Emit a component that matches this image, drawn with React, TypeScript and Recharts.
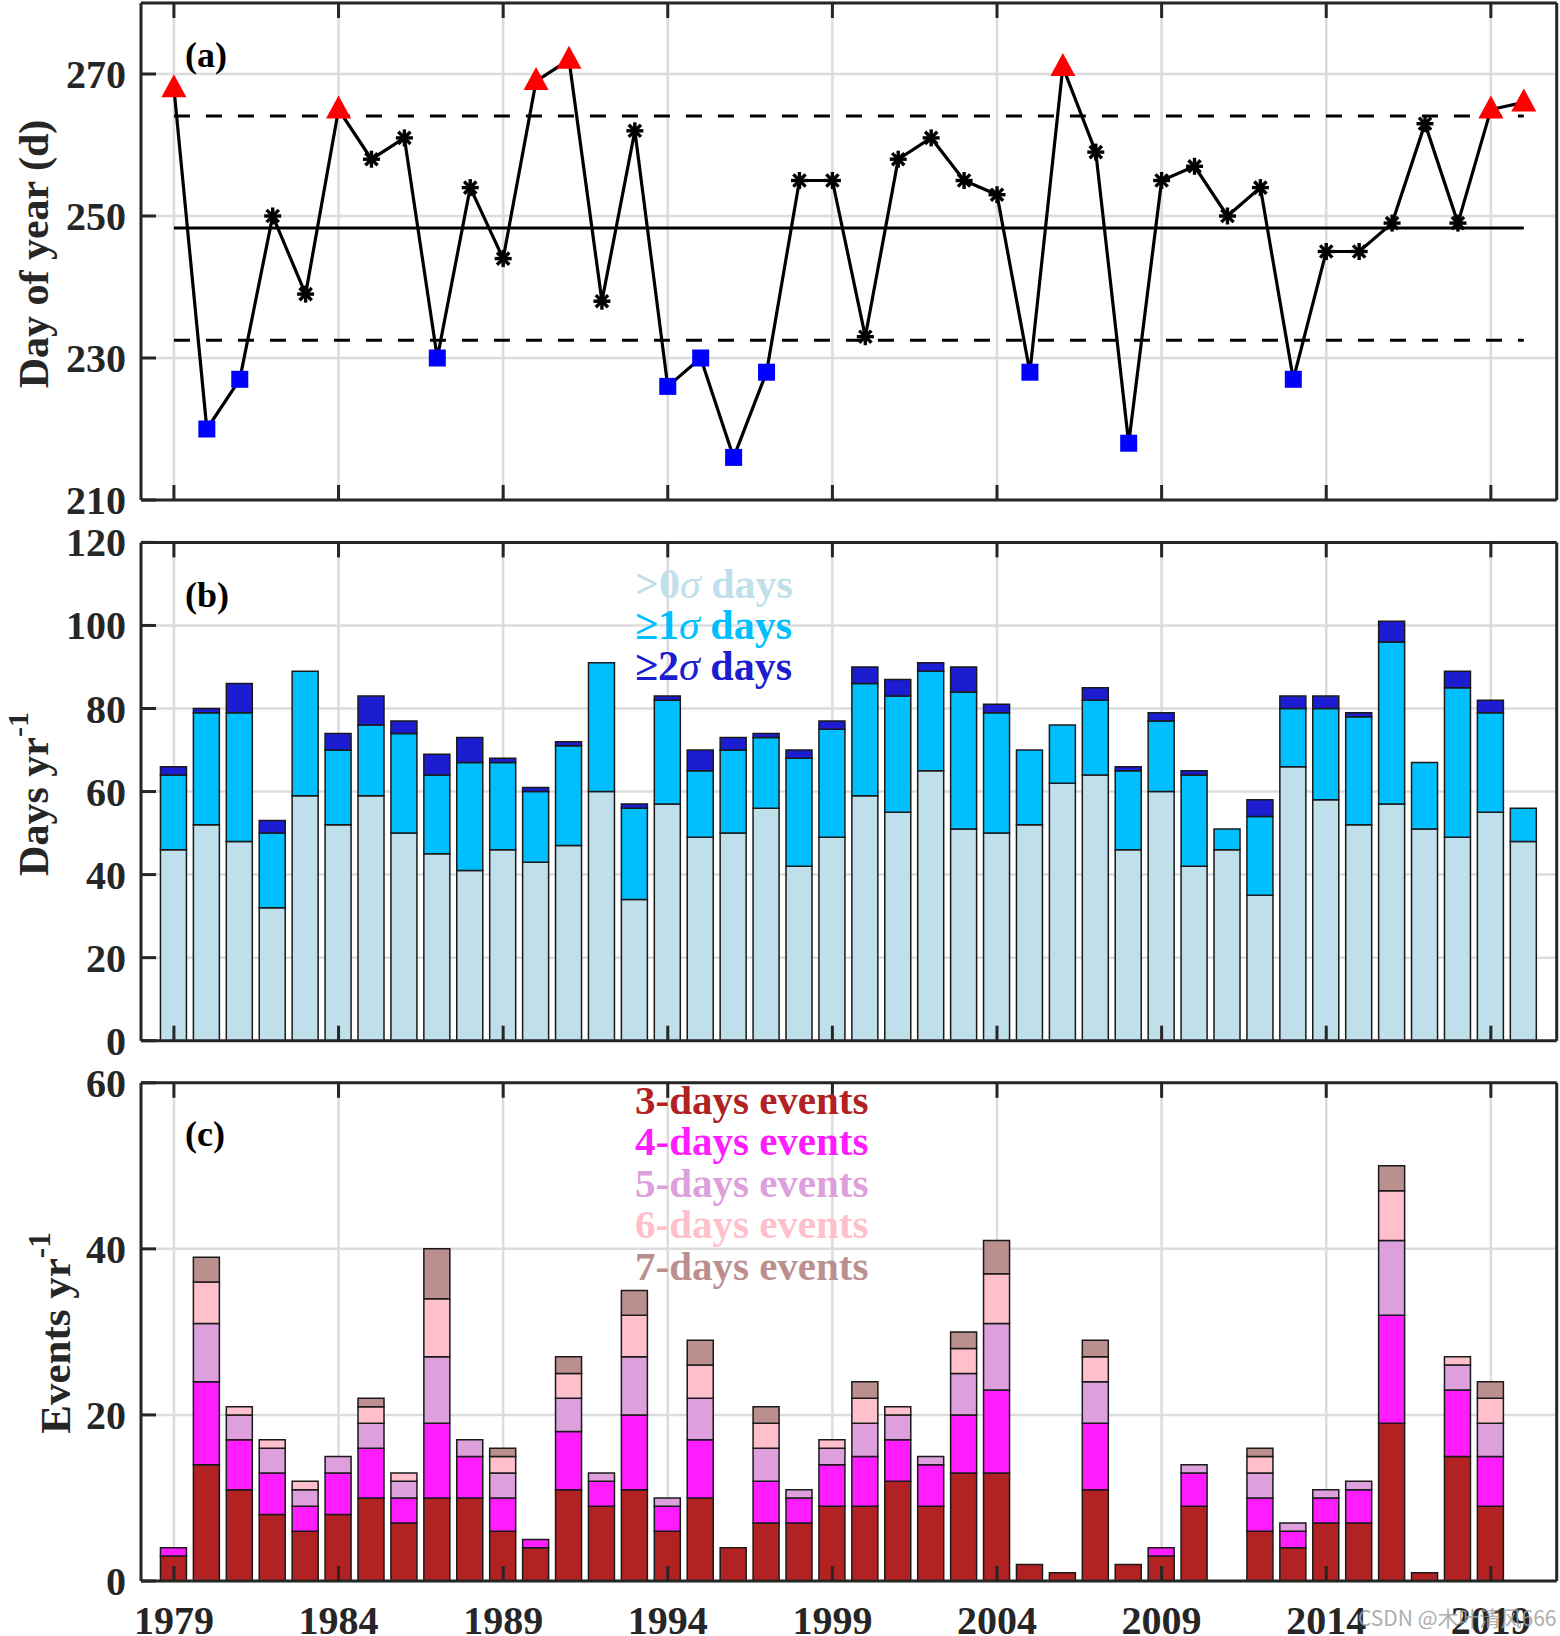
import React from "react";
import { ComposedChart, Bar, Line, XAxis, YAxis, CartesianGrid } from "recharts";

// years on the x axis
const YEARS = [
  1979, 1980, 1981, 1982, 1983, 1984, 1985, 1986, 1987, 1988, 1989, 1990, 1991, 1992,
  1993, 1994, 1995, 1996, 1997, 1998, 1999, 2000, 2001, 2002, 2003, 2004, 2005, 2006,
  2007, 2008, 2009, 2010, 2011, 2012, 2013, 2014, 2015, 2016, 2017, 2018, 2019, 2020,
];
const YEAR_TICKS = [1979, 1984, 1989, 1994, 1999, 2004, 2009, 2014, 2019];

// (a) day of year
const DOY = [
  268, 220, 227, 250, 239, 265, 258, 261, 230, 254, 244, 269, 272, 238,
  262, 226, 230, 216, 228, 255, 255, 233, 258, 261, 255, 253, 228, 271,
  259, 218, 255, 257, 250, 254, 227, 245, 245, 249, 263, 249, 265, 266,
];
const DOY_MEAN = 248.3;
const DOY_UPPER = 264.1;
const DOY_LOWER = 232.5;
const DOY_TICKS = [210, 230, 250, 270];

// (b) days per year (stacked pieces)
const DAYS_GT0 = [
  46, 52, 48, 32, 59, 52, 59, 50, 45, 41, 46, 43, 47, 60,
  34, 57, 49, 50, 56, 42, 49, 59, 55, 65, 51, 50, 52, 62,
  64, 46, 60, 42, 46, 35, 66, 58, 52, 57, 51, 49, 55, 48,
];
const DAYS_GE1 = [
  18, 27, 31, 18, 30, 18, 17, 24, 19, 26, 21, 17, 24, 31,
  22, 25, 16, 20, 17, 26, 26, 27, 28, 24, 33, 29, 18, 14,
  18, 19, 17, 22, 5, 19, 14, 22, 26, 39, 16, 36, 24, 8,
];
const DAYS_GE2 = [
  2, 1, 7, 3, 0, 4, 7, 3, 5, 6, 1, 1, 1, 0,
  1, 1, 5, 3, 1, 2, 2, 4, 4, 2, 6, 2, 0, 0,
  3, 1, 2, 1, 0, 4, 3, 3, 1, 5, 0, 4, 3, 0,
];
const DAYS_TICKS = [0, 20, 40, 60, 80, 100, 120];

// (c) events per year by duration
const EV3 = [
  3, 14, 11, 8, 6, 8, 10, 7, 10, 10, 6, 4, 11, 9,
  11, 6, 10, 4, 7, 7, 9, 9, 12, 9, 13, 13, 2, 1,
  11, 2, 3, 9, 0, 6, 4, 7, 7, 19, 1, 15, 9, 0,
];
const EV4 = [
  1, 10, 6, 5, 3, 5, 6, 3, 9, 5, 4, 1, 7, 3,
  9, 3, 7, 0, 5, 3, 5, 6, 5, 5, 7, 10, 0, 0,
  8, 0, 1, 4, 0, 4, 2, 3, 4, 13, 0, 8, 6, 0,
];
const EV5 = [
  0, 7, 3, 3, 2, 2, 3, 2, 8, 2, 3, 0, 4, 1,
  7, 1, 5, 0, 4, 1, 2, 4, 3, 1, 5, 8, 0, 0,
  5, 0, 0, 1, 0, 3, 1, 1, 1, 9, 0, 3, 4, 0,
];
const EV6 = [
  0, 5, 1, 1, 1, 0, 2, 1, 7, 0, 2, 0, 3, 0,
  5, 0, 4, 0, 3, 0, 1, 3, 1, 0, 3, 6, 0, 0,
  3, 0, 0, 0, 0, 2, 0, 0, 0, 6, 0, 1, 3, 0,
];
const EV7 = [
  0, 3, 0, 0, 0, 0, 1, 0, 6, 0, 1, 0, 2, 0,
  3, 0, 3, 0, 2, 0, 0, 2, 0, 0, 2, 4, 0, 0,
  2, 0, 0, 0, 0, 1, 0, 0, 0, 3, 0, 0, 2, 0,
];
const EVENT_TICKS = [0, 20, 40, 60];

const doyRows = YEARS.map((year, i) => ({
  year,
  doy: DOY[i],
  mean: DOY_MEAN,
  upper: DOY_UPPER,
  lower: DOY_LOWER,
}));
const dayRows = YEARS.map((year, i) => ({
  year,
  gt0: DAYS_GT0[i],
  ge1: DAYS_GE1[i],
  ge2: DAYS_GE2[i],
}));
const eventRows = YEARS.map((year, i) => ({
  year,
  d3: EV3[i],
  d4: EV4[i],
  d5: EV5[i],
  d6: EV6[i],
  d7: EV7[i],
}));

const FONT = "'Liberation Serif', 'Times New Roman', serif";
const INK = "#262626";
const GRID = "#dcdcdc";
const TICK = 15;

const C_GT0 = "#BFDFEA";
const C_GE1 = "#00BFFF";
const C_GE2 = "#1C1CD0";
const C_D3 = "#B22222";
const C_D4 = "#FF1CFF";
const C_D5 = "#DDA0DD";
const C_D6 = "#FFC0CB";
const C_D7 = "#BC8F8F";

const BAR_STROKE = "#1a1a1a";

function bottomTick(showLabel: boolean) {
  return (p: any) => (
    <g>
      <line x1={p.x} y1={p.y} x2={p.x} y2={p.y - TICK} stroke={INK} strokeWidth={3} />
      {showLabel && (
        <text x={p.x} y={p.y + 53} textAnchor="middle" fontFamily={FONT} fontWeight="bold" fontSize={40} fill={INK}>
          {p.payload.value}
        </text>
      )}
    </g>
  );
}

// top axis has height 1, so its tick origin sits at the plot top
const topTick = (p: any) => (
  <line x1={p.x} y1={p.y} x2={p.x} y2={p.y + TICK} stroke={INK} strokeWidth={3} />
);

const leftTick = (p: any) => (
  <g>
    <line x1={p.x} y1={p.y} x2={p.x + TICK} y2={p.y} stroke={INK} strokeWidth={3} />
    <text x={p.x - 15} y={p.y + 14} textAnchor="end" fontFamily={FONT} fontWeight="bold" fontSize={40} fill={INK}>
      {p.payload.value}
    </text>
  </g>
);

const rightTick = (p: any) => (
  <line x1={p.x} y1={p.y} x2={p.x - TICK} y2={p.y} stroke={INK} strokeWidth={3} />
);

function frameAxes(domain: number[], ticks: number[], showYears: boolean) {
  const axisLine = { stroke: INK, strokeWidth: 3 };
  return [
    <XAxis
      key="xb"
      dataKey="year"
      type="number"
      domain={[1978, 2021]}
      ticks={YEAR_TICKS}
      interval={0}
      height={showYears ? 55 : 1}
      tickSize={0}
      tickMargin={0}
      tickLine={false}
      axisLine={axisLine}
      tick={bottomTick(showYears)}
    />,
    <XAxis
      key="xt"
      xAxisId="top"
      orientation="top"
      dataKey="year"
      type="number"
      domain={[1978, 2021]}
      ticks={YEAR_TICKS}
      interval={0}
      height={1}
      tickSize={0}
      tickMargin={0}
      tickLine={false}
      axisLine={axisLine}
      tick={topTick}
    />,
    <YAxis
      key="yl"
      type="number"
      domain={domain}
      ticks={ticks}
      interval={0}
      width={100}
      tickSize={0}
      tickMargin={0}
      tickLine={false}
      axisLine={axisLine}
      tick={leftTick}
    />,
    <YAxis
      key="yr"
      yAxisId="right"
      orientation="right"
      type="number"
      domain={domain}
      ticks={ticks}
      interval={0}
      width={1}
      tickSize={0}
      tickMargin={0}
      tickLine={false}
      axisLine={axisLine}
      tick={rightTick}
    />,
  ];
}

function DoyMarker(props: any) {
  const { cx, cy, payload, index } = props;
  const v = payload.doy;
  if (v > DOY_UPPER) {
    return (
      <polygon
        key={`m${index}`}
        points={`${cx},${cy - 14} ${cx - 12.5},${cy + 9} ${cx + 12.5},${cy + 9}`}
        fill="#FF0000"
      />
    );
  }
  if (v < DOY_LOWER) {
    return <rect key={`m${index}`} x={cx - 8.5} y={cy - 8.5} width={17} height={17} fill="#0000FF" />;
  }
  const r = 8.5;
  const d = r * 0.72;
  return (
    <g key={`m${index}`} stroke="#000" strokeWidth={3.4}>
      <line x1={cx - r} y1={cy} x2={cx + r} y2={cy} />
      <line x1={cx} y1={cy - r} x2={cx} y2={cy + r} />
      <line x1={cx - d} y1={cy - d} x2={cx + d} y2={cy + d} />
      <line x1={cx - d} y1={cy + d} x2={cx + d} y2={cy - d} />
    </g>
  );
}

const panelStyle = (top: number): React.CSSProperties => ({ position: "absolute", left: 0, top });

export default function App() {
  return (
    <div
      style={{
        position: "absolute",
        left: 0,
        top: 0,
        width: 1560,
        height: 1636,
        overflow: "hidden",
        background: "#fff",
      }}
    >
      {/* (a) day of year */}
      <div style={panelStyle(0)}>
        <ComposedChart width={1560} height={535} data={doyRows} margin={{ top: 2, right: 2.3, bottom: 34, left: 41 }}>
          <CartesianGrid stroke={GRID} strokeWidth={2.5} />
          <Line dataKey="mean" stroke="#000" strokeWidth={3} dot={false} activeDot={false} isAnimationActive={false} />
          <Line dataKey="upper" stroke="#000" strokeWidth={3} strokeDasharray="16 16" dot={false} activeDot={false} isAnimationActive={false} />
          <Line dataKey="lower" stroke="#000" strokeWidth={3} strokeDasharray="16 16" dot={false} activeDot={false} isAnimationActive={false} />
          <Line dataKey="doy" stroke="#000" strokeWidth={3.2} dot={(p: any) => <DoyMarker {...p} />} activeDot={false} isAnimationActive={false} />
          {frameAxes([210, 280], DOY_TICKS, false)}
        </ComposedChart>
      </div>

      {/* (b) days per year */}
      <div style={panelStyle(520)}>
        <ComposedChart width={1560} height={555} data={dayRows} margin={{ top: 21.4, right: 2.3, bottom: 33.3, left: 41 }}>
          <CartesianGrid stroke={GRID} strokeWidth={2.5} />
          <Bar dataKey="gt0" stackId="d" barSize={26} fill={C_GT0} stroke={BAR_STROKE} strokeWidth={1.5} isAnimationActive={false} />
          <Bar dataKey="ge1" stackId="d" barSize={26} fill={C_GE1} stroke={BAR_STROKE} strokeWidth={1.5} isAnimationActive={false} />
          <Bar dataKey="ge2" stackId="d" barSize={26} fill={C_GE2} stroke={BAR_STROKE} strokeWidth={1.5} isAnimationActive={false} />
          {frameAxes([0, 120], DAYS_TICKS, false)}
        </ComposedChart>
      </div>

      {/* (c) events per year */}
      <div style={panelStyle(1060)}>
        <ComposedChart width={1560} height={576} data={eventRows} margin={{ top: 21.8, right: 2.3, bottom: 0, left: 41 }}>
          <CartesianGrid stroke={GRID} strokeWidth={2.5} />
          <Bar dataKey="d3" stackId="e" barSize={26} fill={C_D3} stroke={BAR_STROKE} strokeWidth={1.5} isAnimationActive={false} />
          <Bar dataKey="d4" stackId="e" barSize={26} fill={C_D4} stroke={BAR_STROKE} strokeWidth={1.5} isAnimationActive={false} />
          <Bar dataKey="d5" stackId="e" barSize={26} fill={C_D5} stroke={BAR_STROKE} strokeWidth={1.5} isAnimationActive={false} />
          <Bar dataKey="d6" stackId="e" barSize={26} fill={C_D6} stroke={BAR_STROKE} strokeWidth={1.5} isAnimationActive={false} />
          <Bar dataKey="d7" stackId="e" barSize={26} fill={C_D7} stroke={BAR_STROKE} strokeWidth={1.5} isAnimationActive={false} />
          {frameAxes([0, 60], EVENT_TICKS, true)}
        </ComposedChart>
      </div>

      {/* titles, panel letters and in-plot legends */}
      <svg
        width={1560}
        height={1636}
        style={{ position: "absolute", left: 0, top: 0, pointerEvents: "none" }}
        fontFamily={FONT}
        fontWeight="bold"
      >
        <text transform="translate(48,254) rotate(-90)" textAnchor="middle" fontSize={42} fill={INK}>
          Day of year (d)
        </text>
        <text transform="translate(48,794) rotate(-90)" textAnchor="middle" fontSize={42} fill={INK}>
          Days yr<tspan fontSize={30} dy={-20}>-1</tspan>
        </text>
        <text transform="translate(70,1333) rotate(-90)" textAnchor="middle" fontSize={43} fill={INK}>
          Events yr<tspan fontSize={31} dy={-20}>-1</tspan>
        </text>

        <text x={185} y={67} fontSize={36} fill="#000">(a)</text>
        <text x={185} y={607} fontSize={36} fill="#000">(b)</text>
        <text x={185} y={1146} fontSize={36} fill="#000">(c)</text>

        <text x={635} y={597.5} fontSize={42} fill={C_GT0}>
          &gt;0<tspan fontStyle="italic" fontWeight="normal">σ</tspan> days
        </text>
        <text x={635} y={638.8} fontSize={42} fill={C_GE1}>
          ≥1<tspan fontStyle="italic" fontWeight="normal">σ</tspan> days
        </text>
        <text x={635} y={680} fontSize={42} fill={C_GE2}>
          ≥2<tspan fontStyle="italic" fontWeight="normal">σ</tspan> days
        </text>

        <text x={635} y={1114} fontSize={41} fill={C_D3}>3-days events</text>
        <text x={635} y={1155} fontSize={41} fill={C_D4}>4-days events</text>
        <text x={635} y={1196.5} fontSize={41} fill={C_D5}>5-days events</text>
        <text x={635} y={1238} fontSize={41} fill={C_D6}>6-days events</text>
        <text x={635} y={1279.5} fontSize={41} fill={C_D7}>7-days events</text>

        <text x={1358} y={1626} fontSize={21} fontWeight="normal" fontFamily="'Noto Sans CJK SC', 'Noto Sans', sans-serif" fill="#a0a0a0" opacity={0.85}>
          CSDN @木叶清风666
        </text>
      </svg>
    </div>
  );
}
